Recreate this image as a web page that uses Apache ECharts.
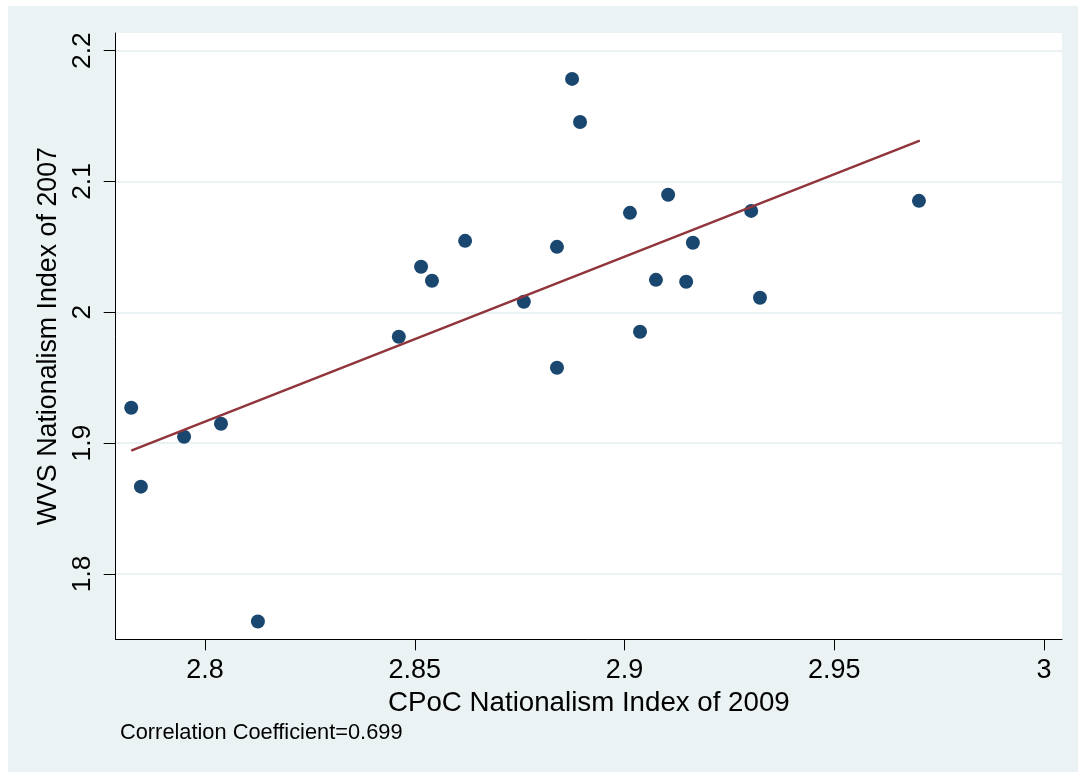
<!DOCTYPE html>
<html>
<head>
<meta charset="utf-8">
<script src="https://cdn.jsdelivr.net/npm/echarts@6/dist/echarts.min.js"></script>
<style>
html,body{margin:0;padding:0;background:#fff;width:1078px;height:772px;overflow:hidden}
#c{position:absolute;left:8px;top:6px;width:1070px;height:766px;}
</style>
</head>
<body>
<div id="c"></div>
<script>
// Tick values
const xTicks = [2.8, 2.85, 2.9, 2.95, 3];
const yTicks = [1.8, 1.9, 2.0, 2.1, 2.2];
// CPoC Nationalism Index of 2009 (x) and WVS Nationalism Index of 2007 (y)
const cpoc = [2.7824, 2.7847, 2.7950, 2.8038, 2.8126, 2.8462, 2.8515, 2.8541, 2.8620, 2.8760, 2.8839, 2.8839,
              2.8875, 2.8894, 2.9013, 2.9037, 2.9075, 2.9104, 2.9147, 2.9163, 2.9302, 2.9323, 2.9702];
const wvs  = [1.9270, 1.8667, 1.9049, 1.9148, 1.7636, 1.9813, 2.0348, 2.0241, 2.0546, 2.0080, 2.0500, 1.9576,
              2.1784, 2.1455, 2.0760, 1.9851, 2.0248, 2.0898, 2.0233, 2.0531, 2.0775, 2.0111, 2.0852];
// Linear fit endpoints
const fitX = [2.7824, 2.9704];
const fitY = [1.8942, 2.1312];
const note = 'Correlation Coefficient=0.699';
const xTitle = 'CPoC Nationalism Index of 2009';
const yTitle = 'WVS Nationalism Index of 2007';

const FONT = '"Liberation Sans", Arial, Helvetica, sans-serif';
const chart = echarts.init(document.getElementById('c'), null, {renderer: 'canvas'});
chart.setOption({
  animation: false,
  backgroundColor: '#eaf2f3',
  textStyle: {fontFamily: FONT, color: '#000'},
  grid: {left: 107.7, right: 16, top: 27, bottom: 132.7, show: true, backgroundColor: '#ffffff', borderWidth: 0, containLabel: false},
  xAxis: {
    type: 'value', min: 2.7787, max: 3.0043,
    name: xTitle, nameLocation: 'middle', nameGap: 42,
    nameTextStyle: {fontFamily: FONT, fontSize: 27.7, color: '#000'},
    axisLine: {show: true, onZero: false, lineStyle: {color: '#000', width: 1}},
    axisTick: {show: true, length: 11, customValues: xTicks, lineStyle: {color: '#000', width: 1}},
    axisLabel: {customValues: xTicks, margin: 18, fontFamily: FONT, fontSize: 27, color: '#000',
      formatter: v => String(+v.toFixed(2))},
    splitLine: {show: false}
  },
  yAxis: {
    type: 'value', min: 1.75, max: 2.2135,
    name: yTitle, nameLocation: 'middle', nameGap: 49, nameRotate: 90,
    nameTextStyle: {fontFamily: FONT, fontSize: 26.8, color: '#000'},
    axisLine: {show: true, onZero: false, lineStyle: {color: '#000', width: 1}},
    axisTick: {show: true, length: 12, customValues: yTicks, lineStyle: {color: '#000', width: 1}},
    axisLabel: {customValues: yTicks, rotate: 90, margin: 20, fontFamily: FONT, fontSize: 26.4, color: '#000',
      formatter: v => String(+v.toFixed(1))},
    splitLine: {show: true, lineStyle: {color: '#eaf2f3', width: 2}}
  },
  graphic: [{
    type: 'text', left: 112, top: 716,
    style: {text: note, fontFamily: FONT, fontSize: 21.8, fill: '#000'}
  }],
  series: [
    {
      type: 'scatter', symbol: 'circle', symbolSize: 14,
      itemStyle: {color: '#1a476f', opacity: 1},
      data: cpoc.map((x, i) => [x, wvs[i]]),
      z: 2
    },
    {
      type: 'line', showSymbol: false, symbol: 'none',
      lineStyle: {color: '#90353b', width: 2.5},
      data: fitX.map((x, i) => [x, fitY[i]]),
      z: 3
    }
  ]
});
</script>
</body>
</html>
